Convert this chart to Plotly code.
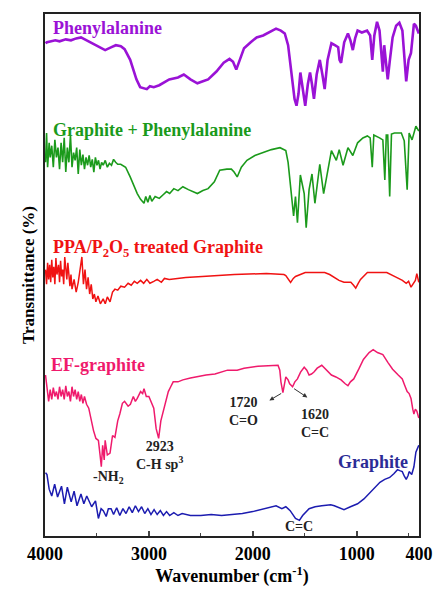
import plotly.graph_objects as go

# (wavenumber cm^-1, transmittance a.u. with vertical offset)
PHENYLALANINE = [(3995,505),(3981,506),(3940,507),(3900,508),(3860,507),(3800,509),(3750,508),(3700,510),(3654,511),(3600,508),(3500,503),(3421,498),(3360,501),(3318,503),(3270,502),(3234,499),(3180,488),(3120,468),(3084,460),(3050,459),(3020,458),(2990,461),(2953,460),(2900,462),(2850,465),(2804,468),(2720,470),(2664,473),(2600,468),(2533,464),(2480,466),(2430,468),(2350,476),(2280,485),(2224,489),(2190,486),(2159,478),(2120,490),(2084,500),(2020,506),(1963,511),(1900,513),(1850,516),(1776,520),(1730,518),(1692,515),(1660,503),(1636,481),(1615,458),(1598,448),(1579,441),(1560,453),(1542,475),(1520,458),(1495,441),(1470,463),(1449,475),(1430,463),(1411,448),(1385,473),(1355,488),(1330,473),(1308,458),(1280,488),(1243,505),(1210,503),(1178,501),(1165,488),(1150,485),(1120,506),(1084,515),(1060,508),(1037,498),(1015,510),(991,518),(950,516),(900,518),(870,513),(850,488),(830,513),(804,527),(780,518),(748,476),(735,503),(701,468),(680,488),(654,511),(620,523),(589,526),(560,518),(523,466),(500,488),(477,495),(460,513),(449,525),(430,523),(402,515)]

GRAPHITE_PHE = [(3995,383),(3985,413),(3975,378),(3960,403),(3950,388),(3935,400),(3920,378),(3905,406),(3890,388),(3875,398),(3860,376),(3845,403),(3830,383),(3815,408),(3800,373),(3785,398),(3770,383),(3755,411),(3740,378),(3725,393),(3710,385),(3695,398),(3680,371),(3665,396),(3650,380),(3635,391),(3620,376),(3605,388),(3590,380),(3575,390),(3560,378),(3545,386),(3530,373),(3515,388),(3500,380),(3485,385),(3470,376),(3455,383),(3440,380),(3420,385),(3400,378),(3380,382),(3360,380),(3340,386),(3320,383),(3300,381),(3271,381),(3224,378),(3180,368),(3112,351),(3080,345),(3047,341),(3030,348),(3010,342),(2990,349),(2972,343),(2940,348),(2900,346),(2860,350),(2830,353),(2800,351),(2760,356),(2720,354),(2673,358),(2620,355),(2533,351),(2480,354),(2430,356),(2370,363),(2318,375),(2250,376),(2206,376),(2180,373),(2150,368),(2110,378),(2056,385),(1980,390),(1897,393),(1820,396),(1738,398),(1682,395),(1660,383),(1636,361),(1607,328),(1589,348),(1570,321),(1542,370),(1505,351),(1486,316),(1458,355),(1430,371),(1402,341),(1355,381),(1318,351),(1243,395),(1196,385),(1168,396),(1131,380),(1084,398),(1037,390),(991,403),(940,408),(897,410),(870,408),(850,378),(835,411),(780,408),(748,406),(729,365),(715,411),(701,411),(682,348),(665,412),(636,413),(570,413),(542,405),(514,355),(500,412),(495,413),(467,406),(430,420),(402,415)]

PPA_GRAPHITE = [(3995,273),(3985,258),(3975,280),(3965,263),(3955,278),(3945,260),(3935,283),(3925,265),(3915,276),(3905,258),(3895,285),(3885,268),(3870,278),(3860,260),(3850,282),(3840,266),(3830,273),(3820,258),(3810,286),(3800,268),(3790,263),(3780,280),(3770,270),(3760,256),(3750,268),(3740,253),(3720,263),(3700,250),(3680,260),(3660,273),(3645,286),(3630,258),(3615,273),(3600,253),(3585,265),(3570,248),(3555,258),(3540,243),(3525,248),(3510,240),(3490,246),(3467,238),(3440,243),(3420,238),(3400,245),(3374,240),(3350,250),(3327,253),(3300,252),(3270,256),(3234,255),(3200,259),(3170,257),(3140,261),(3112,259),(3080,262),(3050,259),(3020,263),(2990,259),(2953,261),(2920,263),(2880,260),(2850,264),(2804,263),(2645,265),(2486,266),(2178,268),(1869,269),(1700,268),(1682,267),(1655,263),(1636,260),(1610,264),(1589,266),(1495,270),(1308,270),(1260,268),(1215,265),(1170,262),(1122,260),(1056,260),(1030,257),(1009,254),(985,259),(963,263),(897,270),(710,270),(617,265),(560,262),(523,259),(500,261),(477,255),(449,259),(435,262),(421,269),(410,264),(402,260)]

EF_GRAPHITE = [(3995,165),(3980,153),(3965,138),(3950,150),(3935,140),(3920,152),(3905,143),(3890,148),(3875,140),(3860,153),(3845,143),(3830,150),(3815,140),(3800,154),(3785,143),(3770,148),(3755,138),(3740,153),(3725,143),(3710,150),(3695,140),(3680,148),(3665,138),(3650,145),(3635,136),(3620,143),(3600,135),(3579,131),(3555,118),(3533,108),(3510,100),(3486,98),(3470,83),(3458,71),(3445,93),(3430,78),(3421,98),(3400,83),(3374,85),(3350,103),(3327,101),(3300,118),(3280,125),(3255,136),(3234,138),(3200,133),(3178,135),(3150,143),(3130,138),(3112,141),(3080,148),(3060,146),(3047,151),(3025,143),(3000,143),(2975,136),(2953,131),(2930,110),(2906,100),(2885,118),(2860,128),(2840,138),(2813,148),(2790,153),(2766,158),(2720,158),(2673,160),(2600,162),(2551,163),(2450,165),(2364,166),(2300,168),(2243,170),(2150,170),(2084,172),(1950,174),(1804,175),(1757,175),(1740,170),(1729,158),(1710,147),(1695,158),(1682,163),(1660,160),(1645,156),(1617,153),(1595,158),(1570,161),(1540,168),(1505,173),(1480,170),(1458,165),(1435,166),(1411,168),(1380,172),(1336,175),(1290,170),(1243,165),(1200,163),(1150,160),(1110,156),(1084,154),(1060,158),(1028,161),(980,171),(935,181),(880,188),(841,191),(800,188),(748,186),(700,178),(654,171),(600,165),(561,161),(540,155),(514,148),(495,146),(477,141),(460,130),(449,125),(435,130),(421,128),(402,121)]

GRAPHITE = [(3995,65),(3981,63),(3960,48),(3935,41),(3907,53),(3879,40),(3841,51),(3813,33),(3785,50),(3748,35),(3720,46),(3692,31),(3654,43),(3626,33),(3598,41),(3551,30),(3514,36),(3486,18),(3460,28),(3439,26),(3411,20),(3390,28),(3364,28),(3340,22),(3310,29),(3280,21),(3250,28),(3220,23),(3190,30),(3160,24),(3130,31),(3100,25),(3070,30),(3040,23),(3010,28),(2980,22),(2950,27),(2920,22),(2890,26),(2860,21),(2830,25),(2800,21),(2760,24),(2720,21),(2680,23),(2600,21),(2500,21),(2400,22),(2300,21),(2200,22),(2100,23),(2000,25),(1900,28),(1776,31),(1720,28),(1682,30),(1640,26),(1610,21),(1589,18),(1551,16),(1520,21),(1458,28),(1400,30),(1336,31),(1250,32),(1215,31),(1160,29),(1122,27),(1060,30),(991,33),(930,38),(869,45),(820,50),(776,55),(730,58),(682,60),(640,64),(607,68),(585,67),(561,66),(540,61),(523,58),(505,62),(495,66),(470,63),(449,71),(430,86),(402,93)]

SERIES = [
    ("Phenylalanine", PHENYLALANINE, "#9a12d6", 2.6),
    ("Graphite + Phenylalanine", GRAPHITE_PHE, "#1b9a1b", 1.6),
    ("PPA/P<sub>2</sub>O<sub>5</sub> treated Graphite", PPA_GRAPHITE, "#f01212", 1.5),
    ("EF-graphite", EF_GRAPHITE, "#ef1a6c", 1.5),
    ("Graphite", GRAPHITE, "#1c1cb0", 1.5),
]

X_TICKS = [4000, 3000, 2000, 1000, 400]

SERIF = "Liberation Serif, Times New Roman, serif"

fig = go.Figure()
for name, pts, color, w in SERIES:
    wn = [p[0] for p in pts]
    t = [p[1] for p in pts]
    fig.add_trace(go.Scatter(x=wn, y=t, mode="lines", name=name,
                             line=dict(color=color, width=w), showlegend=False))

# Series labels
labels = [
    ("Phenylalanine", 3945, 521, "left", "#9a12d6"),
    ("Graphite + Phenylalanine", 3945, 416, "left", "#1b9a1b"),
    ("PPA/P<sub>2</sub>O<sub>5</sub> treated Graphite", 3945, 295, "left", "#f01212"),
    ("EF-graphite", 3960, 175, "left", "#ef1a6c"),
    ("Graphite", 490, 76, "right", "#2b2b96"),
]
for txt, x, y, xa, c in labels:
    fig.add_annotation(x=x, y=y, text=f"<b>{txt}</b>", showarrow=False, xanchor=xa,
                       yanchor="middle", font=dict(family=SERIF, size=18, color=c))

# Peak labels
peaks = [
    ("-NH<sub>2</sub>", 3393, 60),
    ("2923<br>C-H sp<sup>3</sup>", 2897, 82),
    ("1720<br>C=O", 2085, 128),
    ("1620<br>C=C", 1405, 115),
    ("C=C", 1551, 10),
]
for txt, x, y in peaks:
    fig.add_annotation(x=x, y=y, text=f"<b>{txt}</b>", showarrow=False,
                       font=dict(family=SERIF, size=14, color="#222"))

# arrows
for (tx, ty, hx, hy) in [(1712, 147, 1840, 139), (1617, 152, 1475, 142)]:
    fig.add_annotation(x=hx, y=hy, ax=tx, ay=ty, xref="x", yref="y", axref="x", ayref="y",
                       text="", showarrow=True, arrowhead=2, arrowsize=0.9, arrowwidth=1,
                       arrowcolor="#333")

fig.update_layout(
    width=445, height=591,
    margin=dict(l=45, r=14, t=13, b=43),
    paper_bgcolor="white", plot_bgcolor="white",
    font=dict(family=SERIF, color="black"),
    xaxis=dict(range=[4000, 400], tickvals=X_TICKS, ticktext=[f"<b>{v}</b>" for v in X_TICKS],
               tickfont=dict(size=18, family=SERIF), showline=True, linewidth=2, linecolor="#222",
               mirror=True, ticks="inside", ticklen=5, tickwidth=1.5, showgrid=False, zeroline=False,
               minor=dict(dtick=500, ticks="inside", ticklen=3, tickwidth=1),
               title=dict(text="<b>Wavenumber (cm<sup>-1</sup>)</b>", font=dict(size=18, family=SERIF),
                          standoff=3)),
    yaxis=dict(range=[0, 535], showticklabels=False, ticks="", showline=True, linewidth=2,
               linecolor="#222", mirror=True, showgrid=False, zeroline=False,
               title=dict(text="<b>Transmittance (%)</b>", font=dict(size=17, family=SERIF),
                          standoff=4)),
)

fig.write_html("out.html")
